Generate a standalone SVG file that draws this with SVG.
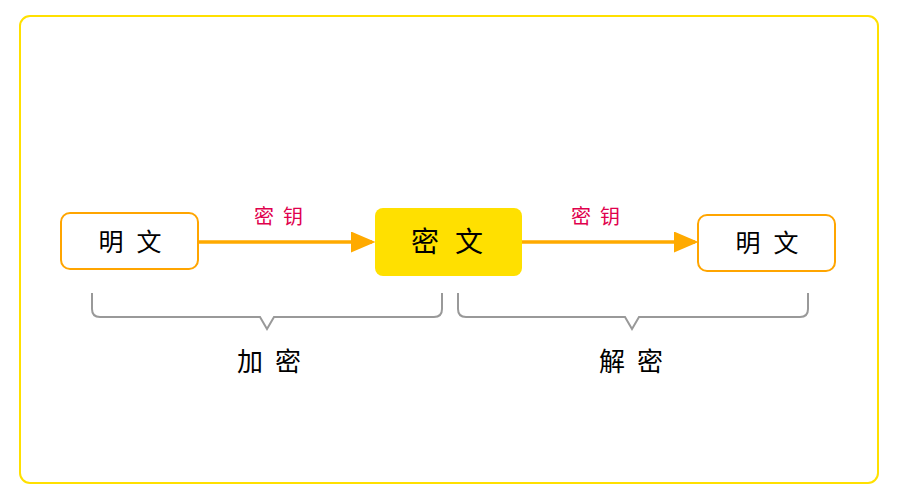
<svg xmlns="http://www.w3.org/2000/svg" width="900" height="500" viewBox="0 0 900 500">
<style>
.t{font-family:"Noto Sans CJK SC","Liberation Sans",sans-serif;fill:#000;text-anchor:middle;dominant-baseline:central}
.k{font-family:"Noto Sans CJK SC","Liberation Sans",sans-serif;fill:#E0004D;text-anchor:middle;dominant-baseline:central;font-size:20px}
.box{fill:#fff;stroke:#FFA500;stroke-width:2}
.arr{stroke:#FFAA00;stroke-width:3.5;fill:none}
.brace{stroke:#999;stroke-width:2;fill:none}
</style>
<defs>
<marker id="ah" markerWidth="7" markerHeight="6" refX="6" refY="3" orient="auto" markerUnits="strokeWidth">
<path d="M0,0 L7,3 L0,6 z" fill="#FFAA00"/>
</marker>
</defs>
<rect x="20" y="16" width="858" height="467" rx="10" fill="#fff" stroke="#FFE000" stroke-width="2"/>
<g id="connectors">
<line class="arr" x1="199" y1="242" x2="372" y2="242" marker-end="url(#ah)"/>
<line class="arr" x1="522" y1="242" x2="695" y2="242" marker-end="url(#ah)"/>
<text class="k" y="215"><tspan x="264">密</tspan><tspan x="293">钥</tspan></text>
<text class="k" y="215"><tspan x="581">密</tspan><tspan x="610">钥</tspan></text>
</g>
<g id="plain1">
<rect class="box" x="61" y="213" width="137" height="56" rx="9"/>
<text class="t" y="239.5" font-size="25"><tspan x="111">明</tspan><tspan x="149">文</tspan></text>
</g>
<g id="cipher">
<rect x="375" y="208" width="147" height="68" rx="8" fill="#FFE000"/>
<text class="t" y="240" font-size="28"><tspan x="425">密</tspan><tspan x="469">文</tspan></text>
</g>
<g id="plain2">
<rect class="box" x="698" y="215" width="137" height="56" rx="9"/>
<text class="t" y="241" font-size="25"><tspan x="748">明</tspan><tspan x="786">文</tspan></text>
</g>
<g id="encrypt">
<path class="brace" d="M92,293 V309 Q92,317 100,317 H260 L267,329 L274,317 H434 Q442,317 442,309 V293"/>
<text class="t" y="359" font-size="26"><tspan x="250">加</tspan><tspan x="288">密</tspan></text>
</g>
<g id="decrypt">
<path class="brace" d="M458,293 V309 Q458,317 466,317 H625 L632,329 L639,317 H800 Q808,317 808,309 V293"/>
<text class="t" y="359" font-size="26"><tspan x="612">解</tspan><tspan x="650">密</tspan></text>
</g>
</svg>
